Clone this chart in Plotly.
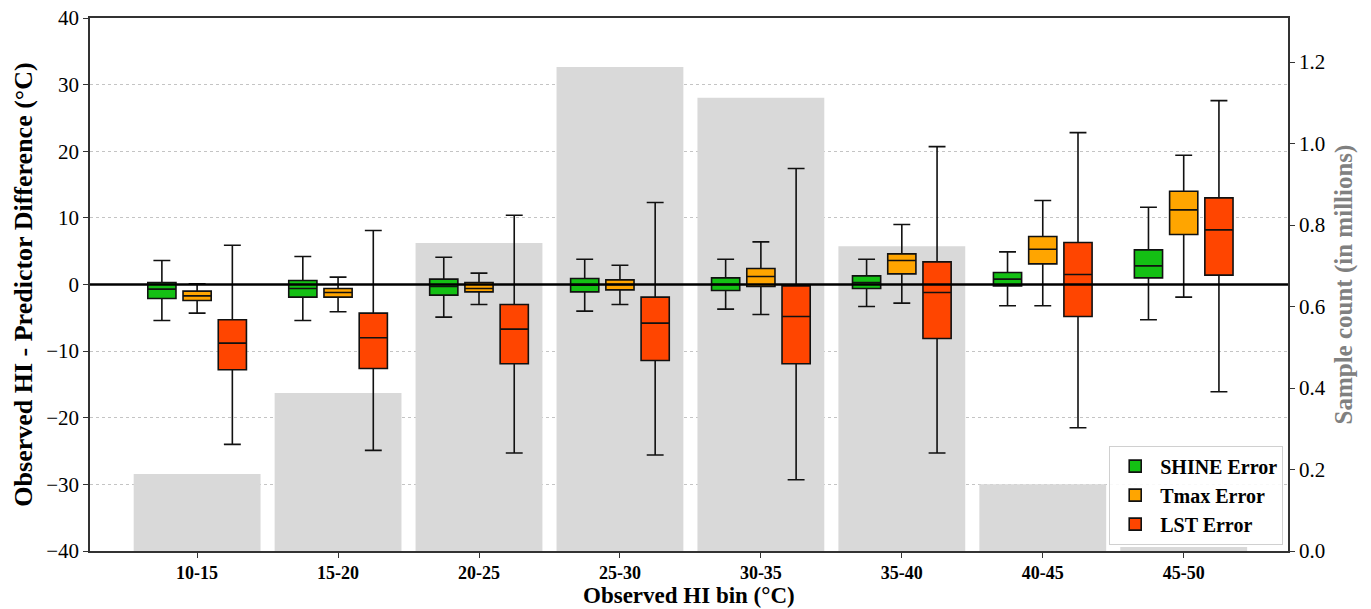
import plotly.graph_objects as go

bins = ["10-15", "15-20", "20-25", "25-30", "30-35", "35-40", "40-45", "45-50"]
sample_count = [0.189, 0.388, 0.756, 1.188, 1.112, 0.748, 0.164, 0.010]

shine_low = [-5.4, -5.4, -4.9, -4.0, -3.7, -3.3, -3.2, -5.3]
shine_q1 = [-2.1, -1.9, -1.6, -1.1, -0.9, -0.6, -0.2, 1.0]
shine_med = [-0.7, -0.6, -0.3, -0.1, 0.0, 0.3, 0.8, 2.8]
shine_q3 = [0.3, 0.6, 0.8, 0.9, 1.0, 1.3, 1.8, 5.2]
shine_high = [3.6, 4.2, 4.1, 3.8, 3.8, 3.8, 4.9, 11.6]

tmax_low = [-4.3, -4.1, -3.0, -3.0, -4.5, -2.8, -3.2, -1.9]
tmax_q1 = [-2.4, -1.9, -1.1, -0.8, -0.3, 1.6, 3.1, 7.5]
tmax_med = [-1.7, -1.2, -0.6, 0.0, 1.2, 3.6, 5.3, 11.2]
tmax_q3 = [-1.0, -0.6, 0.3, 0.7, 2.4, 4.6, 7.2, 14.0]
tmax_high = [0.1, 1.1, 1.7, 2.9, 6.4, 9.0, 12.6, 19.4]

lst_low = [-24.0, -24.9, -25.3, -25.6, -29.3, -25.3, -21.5, -16.1]
lst_q1 = [-12.8, -12.6, -11.9, -11.4, -11.9, -8.1, -4.8, 1.4]
lst_med = [-8.8, -8.0, -6.7, -5.8, -4.8, -1.2, 1.5, 8.2]
lst_q3 = [-5.3, -4.3, -3.0, -1.9, -0.2, 3.4, 6.3, 13.0]
lst_high = [5.9, 8.1, 10.4, 12.3, 17.4, 20.7, 22.8, 27.6]

series = [
    ("SHINE Error", "#14C014", shine_low, shine_q1, shine_med, shine_q3, shine_high),
    ("Tmax Error", "#FFA500", tmax_low, tmax_q1, tmax_med, tmax_q3, tmax_high),
    ("LST Error", "#FF4500", lst_low, lst_q1, lst_med, lst_q3, lst_high),
]

FONT = "Liberation Serif"

fig = go.Figure()
fig.add_trace(go.Bar(
    x=bins, y=sample_count, marker=dict(color="#D9D9D9", line=dict(width=0)),
    showlegend=False, yaxis="y", hoverinfo="skip",
))
for name, color, lo, q1, med, q3, hi in series:
    fig.add_trace(go.Box(
        name=name, x=bins, q1=q1, median=med, q3=q3, lowerfence=lo, upperfence=hi,
        fillcolor=color, line=dict(color="#111111", width=1.6),
        whiskerwidth=0.6, boxpoints=False, yaxis="y2",
    ))

fig.add_shape(type="line", xref="paper", yref="y2", x0=0, x1=1, y0=0, y1=0,
              line=dict(color="black", width=2.5), layer="above")

fig.add_annotation(
    text="<b>Observed HI bin (°C)</b>", xref="paper", yref="paper",
    x=0.5, y=0, yshift=-59, xanchor="center", yanchor="bottom",
    showarrow=False, font=dict(family=FONT, size=23, color="black"),
)

fig.update_layout(
    width=1371, height=609,
    margin=dict(l=90, r=83, t=18, b=58),
    paper_bgcolor="white", plot_bgcolor="white",
    font=dict(family=FONT, color="black", size=20),
    boxmode="group", boxgap=0.25, boxgroupgap=0.2, bargap=0.1,
    xaxis=dict(
        type="category", range=[-0.76, 7.74], automargin=False,
        showline=True, linecolor="#333", linewidth=1.5, mirror=True,
        ticks="outside", ticklen=5, tickcolor="#333", ticklabelstandoff=0,
        tickfont=dict(family=FONT, size=18, weight="bold"),
        showgrid=False,
    ),
    yaxis=dict(
        side="right", range=[0, 1.308], automargin=False,
        tickvals=[0, 0.2, 0.4, 0.6, 0.8, 1.0, 1.2],
        ticktext=["0.0", "0.2", "0.4", "0.6", "0.8", "1.0", "1.2"],
        showline=True, linecolor="#333", linewidth=1.5,
        ticks="outside", ticklen=5, tickcolor="#333",
        tickfont=dict(size=21),
        title=dict(text="<b>Sample count (in millions)</b>", font=dict(size=25, color="#808080"), standoff=10),
        showgrid=False, zeroline=False,
    ),
    yaxis2=dict(
        overlaying="y", side="left", range=[-40, 40], automargin=False,
        tickvals=[-40, -30, -20, -10, 0, 10, 20, 30, 40],
        ticktext=["\u221240", "\u221230", "\u221220", "\u221210", "0", "10", "20", "30", "40"],
        showline=True, linecolor="#333", linewidth=1.5,
        ticks="outside", ticklen=5, tickcolor="#333",
        tickfont=dict(size=21),
        title=dict(text="<b>Observed HI - Predictor Difference (°C)</b>", font=dict(size=26), standoff=6),
        showgrid=True, gridcolor="#C4C4C4", griddash="dot", gridwidth=1,
        zeroline=False,
    ),
    legend=dict(
        x=0.996, y=0.012, xanchor="right", yanchor="bottom",
        bgcolor="rgba(255,255,255,0.9)", bordercolor="#D0D0D0", borderwidth=1,
        font=dict(family=FONT, size=20, weight="bold"),
        tracegroupgap=2, itemwidth=40,
    ),
)

fig.write_html("out.html")
